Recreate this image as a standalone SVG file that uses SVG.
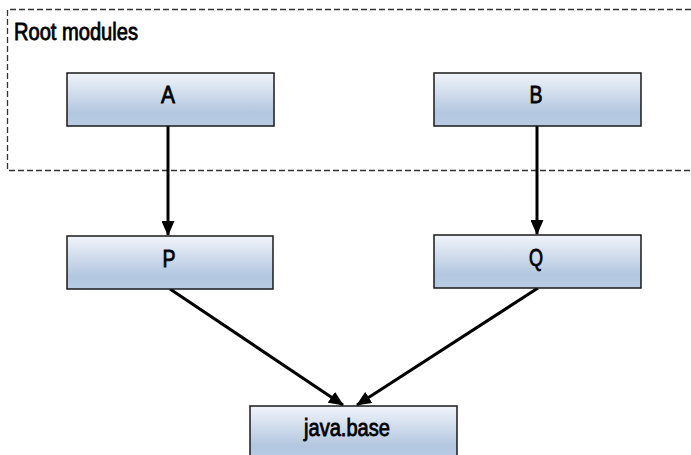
<svg xmlns="http://www.w3.org/2000/svg" width="691" height="455" viewBox="0 0 691 455">
<defs>
<linearGradient id="g" x1="0" y1="0" x2="0" y2="1">
<stop offset="0" stop-color="#f1f4fa"/>
<stop offset="0.75" stop-color="#b3c7e0"/>
<stop offset="1" stop-color="#b8cbe3"/>
</linearGradient>
<marker id="ah" markerWidth="15" markerHeight="13" refX="14" refY="6.5" orient="auto" markerUnits="userSpaceOnUse">
<path d="M0,0 L15,6.5 L0,13 Z" fill="#000"/>
</marker>
<style>
.box{fill:url(#g);stroke:#1a1a1a;stroke-width:1.5}
.t{font-family:"Liberation Sans",Arial,sans-serif;font-size:23px;fill:#000;stroke:#000;stroke-width:0.8;text-anchor:middle}
.c{stroke:#000;stroke-width:3;fill:none;marker-end:url(#ah)}
</style>
</defs>
<g id="root-modules">
<path d="M700,9.5 H7.5 V170.5 H700" fill="none" stroke="#333" stroke-width="1.3" stroke-dasharray="6,3"/>
<text x="14" y="40" class="t" style="text-anchor:start" textLength="124" lengthAdjust="spacingAndGlyphs">Root modules</text>
</g>
<g id="connectors">
<line x1="168" y1="126" x2="168" y2="235" class="c"/>
<line x1="537" y1="126" x2="537" y2="234" class="c"/>
<line x1="170" y1="289" x2="343" y2="405" class="c"/>
<line x1="538" y1="288" x2="357" y2="405" class="c"/>
</g>
<g id="A"><rect x="67" y="73" width="207" height="53" class="box"/><text x="168" y="103" class="t" textLength="14" lengthAdjust="spacingAndGlyphs">A</text></g>
<g id="B"><rect x="434" y="73" width="207" height="53" class="box"/><text x="536" y="103" class="t" textLength="13" lengthAdjust="spacingAndGlyphs">B</text></g>
<g id="P"><rect x="67" y="236" width="206" height="53" class="box"/><text x="169" y="267" class="t" textLength="13" lengthAdjust="spacingAndGlyphs">P</text></g>
<g id="Q"><rect x="434" y="235" width="207" height="53" class="box"/><text x="536" y="266" class="t" textLength="14" lengthAdjust="spacingAndGlyphs">Q</text></g>
<g id="java.base"><rect x="250" y="406" width="207" height="53" class="box"/><text x="347" y="436" class="t" textLength="86" lengthAdjust="spacingAndGlyphs">java.base</text></g>
</svg>
